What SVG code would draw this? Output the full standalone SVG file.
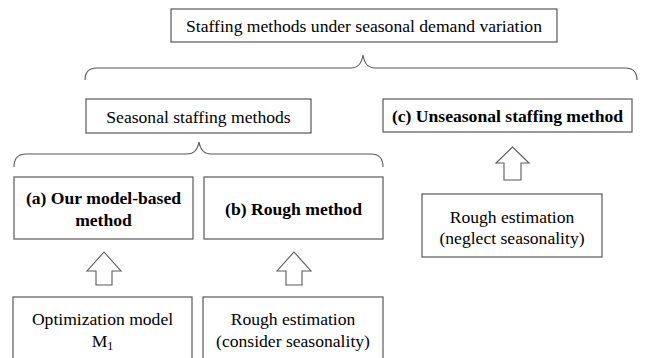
<svg xmlns="http://www.w3.org/2000/svg" width="651" height="358" viewBox="0 0 651 358">
<style>
.box{fill:#fff;stroke:#595959;stroke-width:1.2}
.br{fill:none;stroke:#595959;stroke-width:1.1}
.ar{fill:#fff;stroke:#595959;stroke-width:1.1;stroke-linejoin:miter}
text{font-family:"Liberation Serif","Times New Roman",serif;font-size:17.6px;fill:#000;text-anchor:middle}
.b{font-weight:bold}
</style>
<rect width="651" height="358" fill="#fff"/>
<g id="connectors">
<path class="br" d="M85,80 Q85,68 97,68 L351,68 Q361,68 363,55 Q365,68 375,68 L625,68 Q637,68 637,80"/>
<path class="br" d="M14,167 Q14,154 26,154 L187,154 Q197,154 199,142 Q201,154 211,154 L371,154 Q383,154 383,167"/>
<polygon class="ar" points="96,285 112,285 112,271 121,271 104,252 87,271 96,271"/>
<polygon class="ar" points="286,285 302,285 302,271 311,271 294,252 277,271 286,271"/>
<polygon class="ar" points="504,180 521,180 521,163 529,163 512.5,147 496,163 504,163"/>
</g>
<g id="top">
<rect class="box" x="171" y="9" width="386" height="33"/>
<text x="364" y="31.5">Staffing methods under seasonal demand variation</text>
</g>
<g id="seasonal">
<rect class="box" x="86" y="99" width="225" height="34"/>
<text x="198.5" y="122.5">Seasonal staffing methods</text>
</g>
<g id="unseasonal">
<rect class="box" x="383" y="99" width="249" height="33"/>
<text class="b" x="507.5" y="121.5">(c) Unseasonal staffing method</text>
</g>
<g id="model">
<rect class="box" x="14" y="177" width="179" height="62"/>
<text class="b" x="103.5" y="204">(a) Our model-based</text>
<text class="b" x="103.5" y="226">method</text>
</g>
<g id="rough">
<rect class="box" x="204" y="177" width="179" height="62"/>
<text class="b" x="293.5" y="214.5">(b) Rough method</text>
</g>
<g id="neglect">
<rect class="box" x="422" y="194" width="180" height="63"/>
<text x="512" y="223">Rough estimation</text>
<text x="512" y="244">(neglect seasonality)</text>
</g>
<g id="optim">
<rect class="box" x="13" y="297" width="179" height="70"/>
<text x="102.5" y="325">Optimization model</text>
<text x="102.5" y="347">M<tspan font-size="12" dy="3">1</tspan></text>
</g>
<g id="consider">
<rect class="box" x="203" y="297" width="180" height="70"/>
<text x="293" y="325">Rough estimation</text>
<text x="293" y="347">(consider seasonality)</text>
</g>
</svg>
